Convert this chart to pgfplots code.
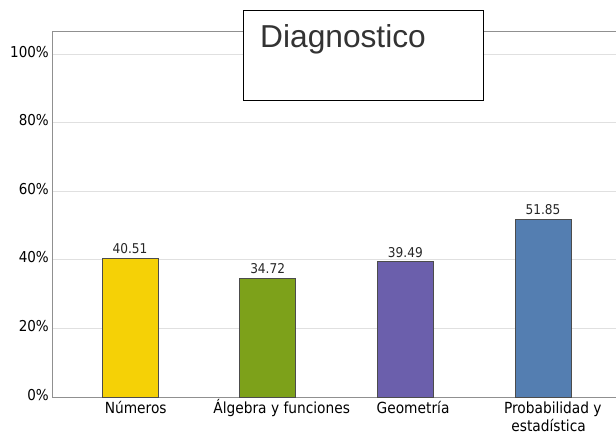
\documentclass[border=0pt]{standalone}
\usepackage{fontspec}
\setmainfont{DejaVu Sans Condensed}
\newfontfamily\titlefont{Liberation Sans}
\usepackage{pgfplots}
\pgfplotsset{compat=1.18}
\definecolor{cY}{HTML}{F5D106}
\definecolor{cG}{HTML}{7DA11A}
\definecolor{cP}{HTML}{6B5FAC}
\definecolor{cB}{HTML}{547EB1}
\definecolor{gridc}{HTML}{E0E0E0}
\definecolor{axc}{HTML}{909090}
\begin{document}
\begin{tikzpicture}
\useasboundingbox (-52pt,-37pt) rectangle (564pt,397pt);
\begin{axis}[
  scale only axis, width=569pt, height=366pt,
  xmin=-0.566, xmax=3.566, ymin=0, ymax=106.7,
  axis line style={axc, line width=0.8pt},
  ymajorgrids, grid style={gridc, line width=0.8pt},
  major tick length=0pt,
  typeset ticklabels with strut,
  ytick={0,20,40,60,80,100},
  yticklabels={0\%,20\%,40\%,60\%,80\%,100\%},
  xtick={0.042,1.102,2.056,3.04},
  xticklabels={Números,{\smash{Á}lgebra y funciones},Geometría,{Probabilidad y\hspace*{-8.6pt}\\estadística}},
  xticklabel style={align=center, font=\fontsize{15.3}{15.6}\selectfont, inner sep=1pt, yshift=-3.5pt},
  yticklabel style={font=\fontsize{15}{16}\selectfont, inner sep=2pt, xshift=-1pt},
  every axis plot/.append style={ybar, bar shift=0pt, bar width=56pt, draw=black!70, line width=0.6pt},
  nodes near coords,
  nodes near coords style={font=\fontsize{13.5}{15}\selectfont, inner sep=4pt, text=black!85,
    /pgf/number format/.cd, fixed, precision=2, fixed zerofill, assume math mode=true},
]
\addplot[fill=cY] coordinates {(0,40.51)};
\addplot[fill=cG] coordinates {(1,34.72)};
\addplot[fill=cP] coordinates {(2,39.49)};
\addplot[fill=cB] coordinates {(3,51.85)};
\end{axis}
\node[draw=black, line width=1.6pt, fill=white, minimum width=240pt, minimum height=90pt, inner sep=0pt] at (311.5pt,341.5pt) {};
\node[anchor=base west, inner sep=0pt, font=\titlefont\fontsize{31.7}{36}\selectfont, text=black!80] at (208pt,349pt) {Diagnostico};
\end{tikzpicture}
\end{document}
